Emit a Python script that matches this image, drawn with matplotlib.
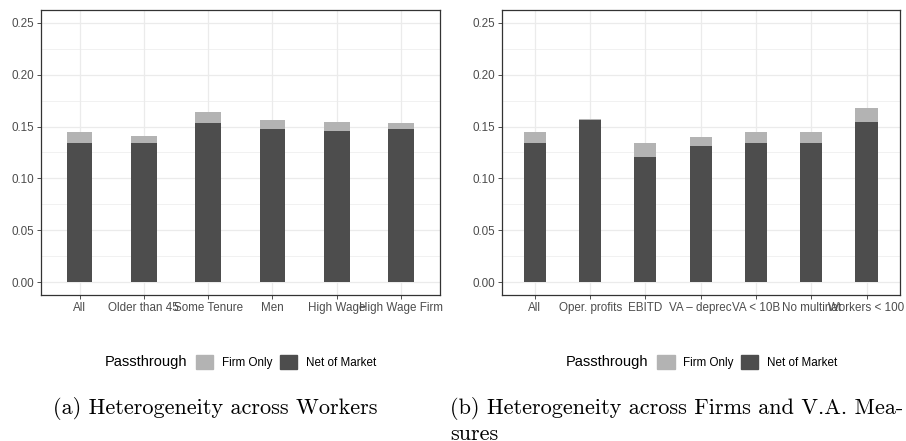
import matplotlib
matplotlib.use("Agg")
import matplotlib.pyplot as plt
import numpy as np
from matplotlib.patches import Patch

# passthrough estimates by subgroup
workers = ["All", "Older than 45", "Some Tenure", "Men", "High Wage", "High Wage Firm"]
workers_firm_only = [0.1443, 0.1414, 0.1645, 0.1568, 0.1549, 0.1530]
workers_net_market = [0.1346, 0.1337, 0.1530, 0.1472, 0.1462, 0.1472]

firms = ["All", "Oper. profits", "EBITD", "VA \u2013 deprec", "VA < 10B", "No multinat", "Workers < 100"]
firms_firm_only = [0.1443, 0.1578, 0.1346, 0.1404, 0.1443, 0.1443, 0.1684]
firms_net_market = [0.1346, 0.1568, 0.1202, 0.1317, 0.1346, 0.1337, 0.1549]

C_FIRM = "#B3B3B3"
C_NET = "#4D4D4D"
TICK_FONT = "Liberation Sans"

W, H = 906, 441
fig = plt.figure(figsize=(W / 100, H / 100), dpi=100)


def px_box(x0, y0, x1, y1):
    return [x0 / W, 1 - y1 / H, (x1 - x0) / W, (y1 - y0) / H]


def bar_panel(ax, labels, firm_only, net):
    x = np.arange(1, len(labels) + 1)
    ax.bar(x, firm_only, width=0.4, color=C_FIRM, zorder=3)
    ax.bar(x, net, width=0.4, color=C_NET, zorder=4)
    ax.set_xlim(0.4, len(labels) + 0.6)
    ax.set_ylim(-0.0125, 0.2625)
    ax.set_xticks(x)
    ax.set_xticklabels(labels)
    ax.set_yticks([0, 0.05, 0.10, 0.15, 0.20, 0.25])
    ax.set_yticklabels(["0.00", "0.05", "0.10", "0.15", "0.20", "0.25"])
    ax.set_yticks(np.arange(0.025, 0.26, 0.05), minor=True)
    ax.grid(which="major", color="#EBEBEB", lw=0.9, zorder=0)
    ax.grid(which="minor", axis="y", color="#EBEBEB", lw=0.5, zorder=0)
    ax.tick_params(which="minor", length=0)
    ax.tick_params(which="major", length=3, width=0.6, color="#333333",
                   labelcolor="#4D4D4D", labelsize=8.4, pad=2)
    for lab in ax.get_xticklabels() + ax.get_yticklabels():
        lab.set_fontfamily(TICK_FONT)
    for sp in ax.spines.values():
        sp.set_color("#333333")
        sp.set_linewidth(0.9)
    ax.set_axisbelow(True)


ax1 = fig.add_axes(px_box(41, 10, 439.5, 295))
bar_panel(ax1, workers, workers_firm_only, workers_net_market)
ax2 = fig.add_axes(px_box(501.7, 10, 899.7, 295))
bar_panel(ax2, firms, firms_firm_only, firms_net_market)

handles = [Patch(color=C_FIRM, label="Firm Only"), Patch(color=C_NET, label="Net of Market")]
for title_x, key_x in [(105, 196), (566, 657.3)]:
    fig.text(title_x / W, 1 - 362.3 / H, "Passthrough", family=TICK_FONT,
             fontsize=10.5, va="center", ha="left")
    fig.legend(handles=handles, ncol=2, frameon=False, loc="center left",
               bbox_to_anchor=(key_x / W, 1 - 362.3 / H),
               prop={"family": TICK_FONT, "size": 8.4},
               handlelength=1.48, handleheight=1.45, handletextpad=0.72,
               columnspacing=0.66, borderpad=0, borderaxespad=0)

cap = dict(family="cmr10", fontsize=16, va="baseline", ha="left")
fig.text(53.3 / W, 1 - 414 / H, "(a) Heterogeneity across Workers", **cap)
fig.text(450 / W, 1 - 414 / H, "(b) Heterogeneity across Firms and V.A. Mea-", **cap)
fig.text(450 / W, 1 - 439.5 / H, "sures", **cap)

fig.savefig("out.png", dpi=100)
